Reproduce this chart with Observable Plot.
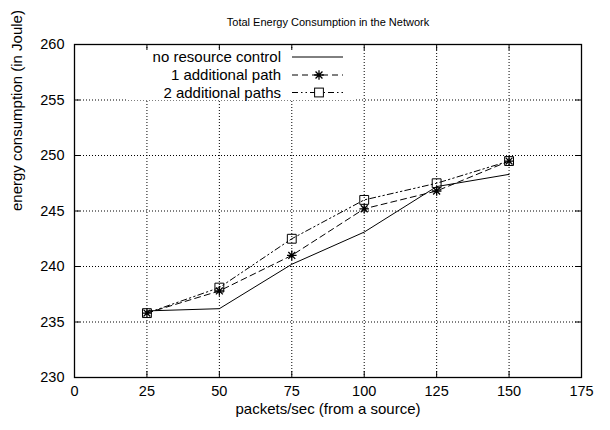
<!DOCTYPE html>
<html>
<head>
<meta charset="utf-8">
<script src="https://cdn.jsdelivr.net/npm/d3@7"></script>
<script src="https://cdn.jsdelivr.net/npm/@observablehq/plot@0.6"></script>
<style>
  html, body { margin: 0; padding: 0; background: white; }
  #chart { width: 610px; height: 430px; }
</style>
</head>
<body>
<div id="chart"></div>
<script>
// ---- data ----
const titleText = "Total Energy Consumption in the Network";
const xLabel = "packets/sec (from a source)";
const yLabel = "energy consumption (in Joule)";
const seriesNames = ["no resource control", "1 additional path", "2 additional paths"];
const rates = [25, 50, 75, 100, 125, 150];
const noControl = [236.0, 236.2, 240.2, 243.1, 247.2, 248.3];
const oneExtra  = [235.8, 237.8, 241.0, 245.2, 246.8, 249.5];
const twoExtra  = [235.8, 238.1, 242.5, 246.0, 247.5, 249.5];
const xTicks = [0, 25, 50, 75, 100, 125, 150, 175];
const yTicks = [230, 235, 240, 245, 250, 255, 260];

const seriesValues = [noControl, oneExtra, twoExtra];
const rows = seriesNames.flatMap((s, k) => rates.map((x, i) => ({x, y: seriesValues[k][i], s})));

const dashes = [null, "6,4", "6,3,1.5,3,1.5,3"];

// gnuplot-style "*" (plus + cross)
const starSymbol = {
  draw(ctx, size) {
    const r = Math.sqrt(size / Math.PI);
    const d = r * 0.72;
    ctx.moveTo(-r, 0); ctx.lineTo(r, 0);
    ctx.moveTo(0, -r); ctx.lineTo(0, r);
    ctx.moveTo(-d, -d); ctx.lineTo(d, d);
    ctx.moveTo(-d, d); ctx.lineTo(d, -d);
  }
};

const W = 610, H = 430, mT = 44, mR = 29, mB = 53, mL = 74;
const fw = W - mL - mR, fh = H - mT - mB;
const tick = 6;
const FONT = "'Liberation Sans', Arial, Helvetica, sans-serif";

const chart = Plot.plot({
  width: W, height: H,
  marginTop: mT, marginRight: mR, marginBottom: mB, marginLeft: mL,
  style: {fontFamily: FONT, fontSize: "15px", background: "white", color: "black"},
  x: {domain: [0, 175]},
  y: {domain: [230, 260]},
  marks: [
    Plot.gridX(xTicks.slice(1, -1), {stroke: "black", strokeOpacity: 1, strokeDasharray: "1,2"}),
    Plot.gridY(yTicks.slice(1, -1), {stroke: "black", strokeOpacity: 1, strokeDasharray: "1,2"}),
    ...seriesNames.map((s, k) => Plot.line(rows.filter(d => d.s === s), {x: "x", y: "y", stroke: "black", strokeWidth: 1, strokeDasharray: dashes[k]})),
    Plot.dot(rows.filter(d => d.s === seriesNames[1]), {x: "x", y: "y", symbol: starSymbol, r: 4.8, stroke: "black", strokeWidth: 1.3, fill: "none"}),
    Plot.dot(rows.filter(d => d.s === seriesNames[2]), {x: "x", y: "y", symbol: "square", r: 5, stroke: "black", strokeWidth: 1, fill: "none"}),
    Plot.frame({stroke: "black", strokeWidth: 1.3}),
    Plot.tickX(xTicks, {x: d => d, stroke: "black", insetTop: fh - tick}),
    Plot.tickX(xTicks, {x: d => d, stroke: "black", insetBottom: fh - tick}),
    Plot.tickY(yTicks, {y: d => d, stroke: "black", insetRight: fw - tick}),
    Plot.tickY(yTicks, {y: d => d, stroke: "black", insetLeft: fw - tick}),
    Plot.axisX(xTicks, {tickSize: 0, tickPadding: 8, label: null, fontSize: 14.5}),
    Plot.axisY(yTicks, {tickSize: 0, tickPadding: 10, label: null, fontSize: 14.5}),
    Plot.text([titleText], {frameAnchor: "top", dy: -26, fontSize: 11}),
    Plot.text([xLabel], {frameAnchor: "bottom", dy: 36, fontSize: 15}),
    Plot.text([yLabel], {frameAnchor: "left", dx: -57, rotate: -90, fontSize: 15})
  ]
});
document.getElementById("chart").appendChild(chart);

// ---- legend (opaque key, gnuplot style) ----
const svg = d3.select(chart);
const g = svg.append("g").attr("font-family", FONT).attr("font-size", 15);
g.append("rect").attr("x", 126).attr("y", mT + tick).attr("width", 228).attr("height", 50).attr("fill", "white");
const rowY = [57, 75, 92.5];
const textR = 281, s0 = 292, s1 = 343, sm = 319;
seriesNames.forEach((name, k) => {
  const y = rowY[k];
  g.append("text").attr("x", textR).attr("y", y).attr("dy", "0.35em").attr("text-anchor", "end").attr("fill", "black").text(name);
  const ln = g.append("line").attr("x1", s0).attr("x2", s1).attr("y1", y).attr("y2", y).attr("stroke", "black").attr("stroke-width", 1);
  if (dashes[k]) ln.attr("stroke-dasharray", dashes[k]);
});
// legend markers
{
  const r = 4.8, d = r * 0.72, y = rowY[1];
  g.append("path").attr("d", `M${sm - r},${y}H${sm + r}M${sm},${y - r}V${y + r}M${sm - d},${y - d}L${sm + d},${y + d}M${sm - d},${y + d}L${sm + d},${y - d}`)
    .attr("stroke", "black").attr("stroke-width", 1.3).attr("fill", "none");
  const h = 4.4, y2 = rowY[2];
  g.append("rect").attr("x", sm - h).attr("y", y2 - h).attr("width", 2 * h).attr("height", 2 * h).attr("stroke", "black").attr("fill", "white");
}
</script>
</body>
</html>
